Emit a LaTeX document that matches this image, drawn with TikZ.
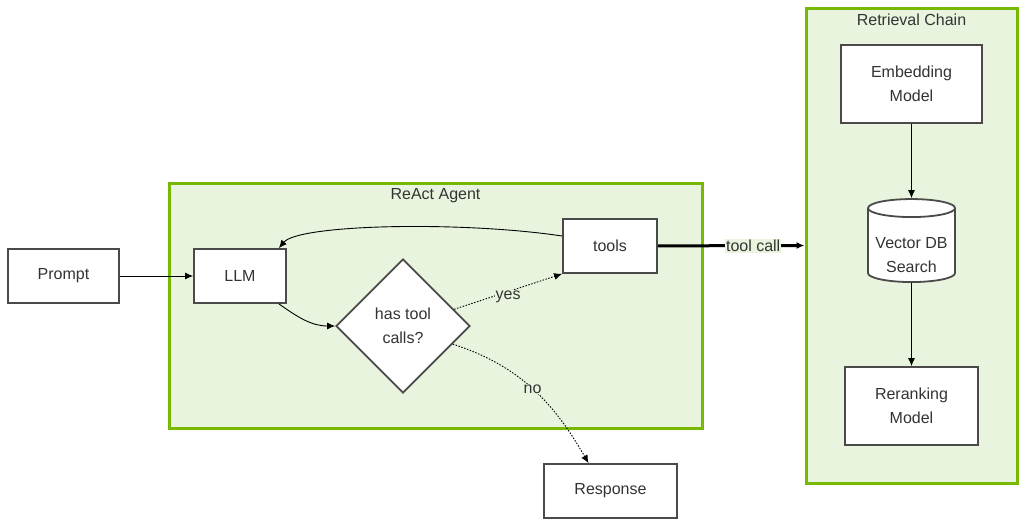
\documentclass[tikz,border=0pt]{standalone}
\usepackage{fontspec}
\setmainfont{Liberation Sans}
\usetikzlibrary{shapes.geometric,arrows.meta}
\definecolor{clusterfill}{HTML}{E9F4DE}
\definecolor{clusterline}{HTML}{76B900}
\definecolor{boxline}{HTML}{4A4A4A}
\definecolor{labeltext}{HTML}{333333}

\begin{document}
\begin{tikzpicture}[x=1pt, y=-1pt,
    box/.style={draw=boxline, line width=1.8pt, fill=white, inner sep=0pt, align=center,
      text=labeltext, font=\fontsize{16}{24}\selectfont},
    cluster/.style={draw=clusterline, fill=clusterfill, line width=3pt, inner sep=0pt},
    title/.style={text=labeltext, font=\fontsize{16}{19}\selectfont},
    edge/.style={draw=black, line width=0.9pt, -{Latex[length=8pt,width=7pt]}},
    maybe/.style={edge, dash pattern=on 1.5pt off 1.5pt},
    edgelabel/.style={fill=clusterfill, text=labeltext, inner sep=1pt, font=\fontsize{16}{19}\selectfont}]
  \useasboundingbox (0,0) rectangle (1025,525);
  \node[cluster, minimum width=533pt, minimum height=245pt] (agent) at (435.5,305.5) {};
  \node[cluster, minimum width=211pt, minimum height=475pt] (retrieval) at (911.5,245.5) {};
  \node[title] (agenttitle) at (435.5,196) {ReAct Agent};
  \node[title] (retrievaltitle) at (911.5,20) {Retrieval Chain};
  \node[box, minimum width=111pt, minimum height=54pt] (prompt) at (63.5,276) {Prompt};
  \node[box, minimum width=92pt, minimum height=54pt] (llm) at (240,276) {LLM};
  \node[box, diamond, minimum width=134pt, minimum height=134pt] (has) at (403,326) {has tool\\calls?};
  \node[box, minimum width=94pt, minimum height=54pt] (tools) at (610,246) {tools};
  \node[box, minimum width=133pt, minimum height=54pt] (response) at (610.5,491) {Response};
  \node[box, minimum width=141pt, minimum height=78pt] (emb) at (911.5,84) {Embedding\\Model};
  \node[box, cylinder, shape border rotate=90, aspect=0.25, minimum width=87pt, minimum height=83pt,
    label={[align=center, text=labeltext, font=\fontsize{16}{24}\selectfont, yshift=-10pt]center:Vector DB\\Search}]
    (vec) at (911.5,245.5) {\phantom{Vector DB}\\\phantom{Search}};
  \node[box, minimum width=133pt, minimum height=78pt] (rerank) at (911.5,406) {Reranking\\Model};
  \draw[edge] (prompt) -- (llm);
  \draw[edge] ([xshift=-8pt]llm.south east) to[out=-35, in=180] (has.west);
  \draw[edge] ([yshift=10pt]tools.west) .. controls +(-100,-15) and +(20,-24) .. ([xshift=-8pt]llm.north east);
  \draw[maybe] (has) -- node[edgelabel, pos=0.5, yshift=-5pt] {yes} (tools.south west);
  \draw[maybe] (has.-20) to[out=-18, in=120] node[edgelabel, pos=0.5] {no} ([xshift=-22pt]response.north);
  \draw[draw=black, line width=3pt, -{Latex[length=8pt,width=7pt]}] (tools) -- node[edgelabel, pos=0.65] {tool call} (retrieval.west);
  \draw[edge] (emb) -- (vec);
  \draw[edge] (vec) -- (rerank);
\end{tikzpicture}
\end{document}
